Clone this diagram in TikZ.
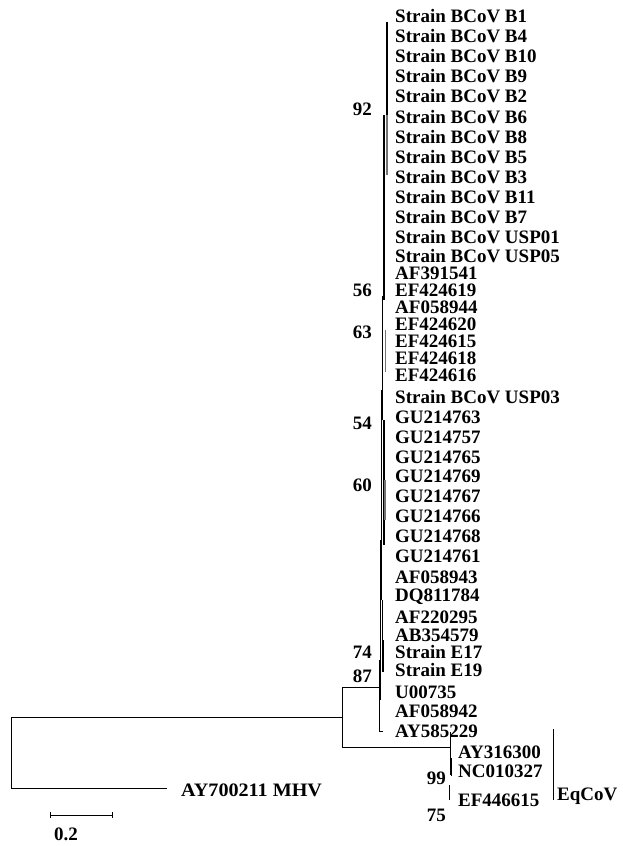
\documentclass[tikz,border=0pt]{standalone}
\usepackage{fontspec}
\setmainfont{Liberation Serif}
\begin{document}
\begin{tikzpicture}[x=1pt,y=-1pt,
  leaf/.style={anchor=west,inner sep=0pt,font=\bfseries\fontsize{19}{19}\selectfont},
  boot/.style={anchor=east,inner sep=0pt,font=\bfseries\fontsize{19}{19}\selectfont},
  br/.style={line width=0.7pt,black},
  thk/.style={line width=1.6pt,black},
  gr/.style={line width=1.2pt,black!55}]
\useasboundingbox (0,0) rectangle (622,846);
% leaves
\foreach \n/\t/\y in {1/Strain BCoV B1/16,2/Strain BCoV B4/36,3/Strain BCoV B10/56,4/Strain BCoV B9/76,
 5/Strain BCoV B2/96,6/Strain BCoV B6/117,7/Strain BCoV B8/137,8/Strain BCoV B5/157,9/Strain BCoV B3/177,
 10/Strain BCoV B11/197,11/Strain BCoV B7/217,12/Strain BCoV USP01/237,13/Strain BCoV USP05/256,
 14/AF391541/273,15/EF424619/290,16/AF058944/307,17/EF424620/324,18/EF424615/341,19/EF424618/358,
 20/EF424616/375,21/Strain BCoV USP03/397,22/GU214763/417,23/GU214757/437,24/GU214765/457,
 25/GU214769/476,26/GU214767/496,27/GU214766/516,28/GU214768/536,29/GU214761/556,30/AF058943/577,
 31/DQ811784/597,32/AF220295/617,33/AB354579/635,34/Strain E17/652,35/Strain E19/670,36/U00735/692,
 37/AF058942/711,38/AY585229/731}
 {\node[leaf] (l\n) at (395,\y) {\t};}
\node[leaf] (e1) at (458,752) {AY316300};
\node[leaf] (e2) at (458,771) {NC010327};
\node[leaf] (e3) at (458,800) {EF446615};
\node[leaf] (eq) at (557,796) {EqCoV};
\node[leaf] (mhv) at (181,790) {\scalebox{1.06}[1]{AY700211 MHV}};
% bootstrap
\node[boot] (b92) at (372,109) {92};
\node[boot] (b56) at (372,290) {56};
\node[boot] (b63) at (372,332) {63};
\node[boot] (b54) at (372,423) {54};
\node[boot] (b60) at (372,485) {60};
\node[boot] (b74) at (372,652) {74};
\node[boot] (b87) at (372,676) {87};
\node[boot] (b99) at (446,778) {99};
\node[boot] (b75) at (446,815) {75};
% internal nodes
\coordinate (root) at (11,717);
\coordinate (n1) at (342,717);
\coordinate (n87) at (379,687);
\coordinate (neq) at (450,747);
\coordinate (mhvend) at (167,788);
% root and outgroups
\draw[br] (mhvend) -| (root) -- (n1);
\draw[br] (342,687) -- (342,747);
\draw[br] (342,687) -- (n87);
\draw[br] (342,747) -- (neq);
% EqCoV clade
\draw[br] (450,732) -- (450,775);
\draw[br] (451.5,758) -- (451.5,776);
\draw[br] (449.5,785) -- (449.5,800);
\draw[br] (553,729) -- (553,800);
% BCoV clade vertical lines
\draw[br] (379.5,660) -- (379.5,731) -- (383,731);
\draw[br] (380.5,540) -- (380.5,700);
\draw[thk] (381.5,390) -- (381.5,600);
\draw[thk] (382.5,296) -- (382.5,420);
\draw[thk] (384,115) -- (384,300);
\draw[thk] (387,22) -- (387,115);
\draw[gr] (387,115) -- (387,175);
\draw[gr] (385.5,330) -- (385.5,372);
\draw[thk] (384,420) -- (384,545);
\draw[gr] (385,480) -- (385,520);
\draw[br] (382.5,600) -- (382.5,672);
\draw[thk] (383.5,640) -- (383.5,672);
% scale bar
\coordinate (s1) at (50,815);
\coordinate (s2) at (112,815);
\draw[br] (s1) -- (s2);
\draw[br] (s1) ++(0,-3) -- ++(0,6);
\draw[br] (s2) ++(0,-3) -- ++(0,6);
\node[leaf] (sc) at (54,834) {0.2};
\end{tikzpicture}
\end{document}
